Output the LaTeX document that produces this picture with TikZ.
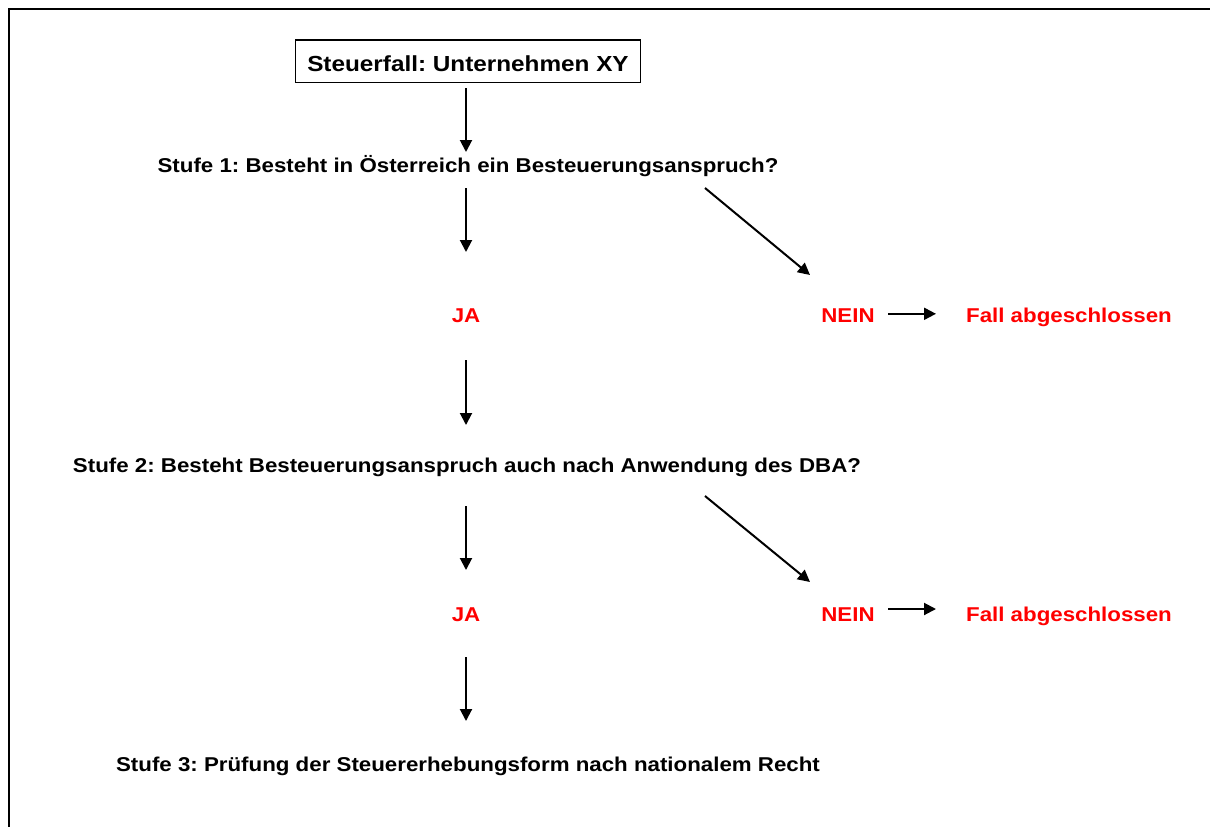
\documentclass[tikz,border=0pt]{standalone}
\usepackage{fontspec}
\setmainfont{Liberation Sans}[FakeStretch=1.115]
\usetikzlibrary{arrows.meta}
\begin{document}
\frenchspacing
\begin{tikzpicture}[x=1pt,y=-1pt,
  txt/.style={font=\fontsize{20}{24}\selectfont\bfseries, inner sep=0pt, text height=14.3pt, text depth=0pt},
  redtxt/.style={txt, text={rgb,255:red,255;green,0;blue,0}},
  arr/.style={line width=2pt, -{Triangle[length=12pt,width=12pt]}},
  frame/.style={line width=2pt}]
\useasboundingbox (0,0) rectangle (1210,827);
\draw[frame] (9,830) -- (9,9) -- (1212,9);
\node[draw, line width=1.4pt, inner xsep=12pt, inner ysep=0pt, minimum height=42.7pt, text height=20.8pt, text depth=0pt, font=\fontsize{21.8}{26}\selectfont\bfseries] (box) at (468,61.4) {Steuerfall: Unternehmen XY};
\node[txt] (s1) at (468,165.3) {Stufe 1: Besteht in Österreich ein Besteuerungsanspruch?};
\node[redtxt] (ja1) at (466,315.5) {JA};
\node[redtxt] (nein1) at (848,315.5) {NEIN};
\node[redtxt] (fall1) at (1069,315.5) {Fall abgeschlossen};
\node[txt] (s2) at (467,465) {Stufe 2: Besteht Besteuerungsanspruch auch nach Anwendung des DBA?};
\node[redtxt] (ja2) at (466,614) {JA};
\node[redtxt] (nein2) at (848,614) {NEIN};
\node[redtxt] (fall2) at (1069,614) {Fall abgeschlossen};
\node[txt] (s3) at (468,764) {Stufe 3: Prüfung der Steuererhebungsform nach nationalem Recht};
% vertical arrows
\draw[arr] ([shift={(-2,26.6)}]box.center) -- ([shift={(-2,-13.3)}]s1.center);
\draw[arr] ([shift={(-2,22.7)}]s1.center) -- ([shift={(0,-63.5)}]ja1.center);
\draw[arr] ([shift={(0,44.5)}]ja1.center) -- ([shift={(-1,-40)}]s2.center);
\draw[arr] ([shift={(-1,41)}]s2.center) -- ([shift={(0,-44)}]ja2.center);
\draw[arr] ([shift={(0,43)}]ja2.center) -- ([shift={(-2,-43)}]s3.center);
% diagonal arrows
\draw[arr] ([shift={(237,22.7)}]s1.center) -- ([shift={(-38,-40.5)}]nein1.center);
\draw[arr] ([shift={(238,31)}]s2.center) -- ([shift={(-38,-32)}]nein2.center);
% horizontal arrows
\draw[arr] ([shift={(40,-1.7)}]nein1.center) -- ([shift={(-133,-1.7)}]fall1.center);
\draw[arr] ([shift={(40,-5)}]nein2.center) -- ([shift={(-133,-5)}]fall2.center);
\end{tikzpicture}
\end{document}
